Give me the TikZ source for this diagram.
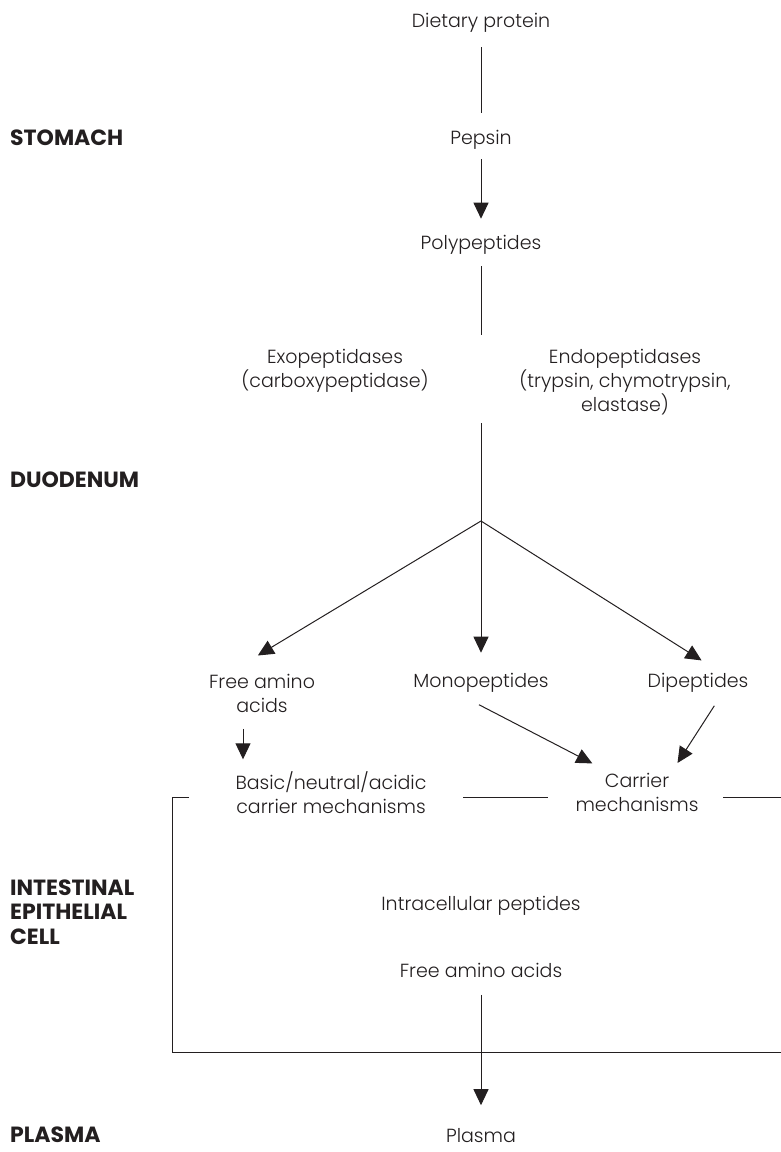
\documentclass[tikz,border=0pt]{standalone}
\usepackage{fontspec}
\setmainfont{Poppins Light}[BoldFont=Poppins Bold]
\usepackage{tikz}
\usetikzlibrary{positioning,calc}
\usetikzlibrary{arrows.meta}
\definecolor{InkBlack}{RGB}{35,31,32}
\tikzset{
  lab/.style={inner sep=0pt,yshift=-2.5pt,text=InkBlack,font=\fontsize{19}{24}\selectfont,align=center},
  region/.style={anchor=west,inner sep=0pt,text=InkBlack,font=\fontsize{22}{24.5}\selectfont\bfseries,align=left},
  edge/.style={draw=InkBlack,line width=1pt},
}
\tikzset{arr/.style={edge,-{Triangle[length=16pt,width=15pt]}}}

\begin{document}
\begin{tikzpicture}[x=1pt,y=-1pt]
\useasboundingbox (0,0) rectangle (781,1152);
\node[region] (stomach) at (10,138) {STOMACH};
\node[region] (duod) at (10,480) {DUODENUM};
\node[region] (cell) at (10,912) {INTESTINAL\\EPITHELIAL\\CELL};
\node[region] (plasmalab) at (10,1135) {PLASMA};
\node[lab] (diet) at (481,20) {Dietary protein};
\node[lab] (pepsin) at (481,137) {Pepsin};
\node[lab] (poly) at (481,242) {Polypeptides};
\node[lab] (exo) at (335,368) {Exopeptidases\\(carboxypeptidase)};
\node[lab] (endo) at (625,380) {Endopeptidases\\(trypsin, chymotrypsin,\\elastase)};
\node[lab] (free) at (262,691) {Free amino\\acids};
\node[lab] (mono) at (481,680) {Monopeptides};
\node[lab] (di) at (698,680) {Dipeptides};
\node[lab] (basic) at (331,790) {Basic/neutral/acidic\\carrier mechanisms};
\node[lab] (carrier) at (637,790) {Carrier\\mechanisms};
\node[lab] (intra) at (481,903) {Intracellular peptides};
\node[lab] (freeaa) at (481,968) {Free amino acids};
\node[lab] (plasma) at (481,1133) {Plasma};
\coordinate (enzt) at (481,335);
\coordinate (enzb) at (481,423);
\coordinate (fork) at (481,521);
\draw[edge,shorten <=15pt,shorten >=17pt] (diet) -- (pepsin);
\draw[arr,shorten <=10pt,shorten >=16pt] (pepsin) -- (poly);
\draw[edge,shorten <=12pt] (poly) -- (enzt);
\draw[edge] (enzb) -- (fork);
\draw[arr,shorten >=36pt] (fork) -- ([xshift=-35pt]free.north);
\draw[arr,shorten >=20pt] (fork) -- (mono.north);
\draw[arr,shorten >=23pt] (fork) -- ([xshift=23pt]di.north);
\draw[arr,shorten <=16pt,shorten >=12pt] ([xshift=-19pt]free.south) -- ([xshift=-19pt]free.south |- basic.north);
\draw[arr,shorten <=27pt,shorten >=21pt] ([xshift=-26pt]mono.south) -- ([xshift=-26pt]carrier.north);
\draw[arr,shorten <=16pt,shorten >=12pt] ([xshift=25pt]di.south) -- ([xshift=34pt]carrier.north);
\draw[arr,shorten <=17pt,shorten >=23pt] (freeaa) -- (plasma);
% cell membrane
\draw[edge] (189,797) -- (172,797) -- (172,1052) -- (781,1052);
\draw[edge] (463,797) -- (548,797);
\draw[edge] (723,797) -- (781,797);
\end{tikzpicture}
\end{document}
